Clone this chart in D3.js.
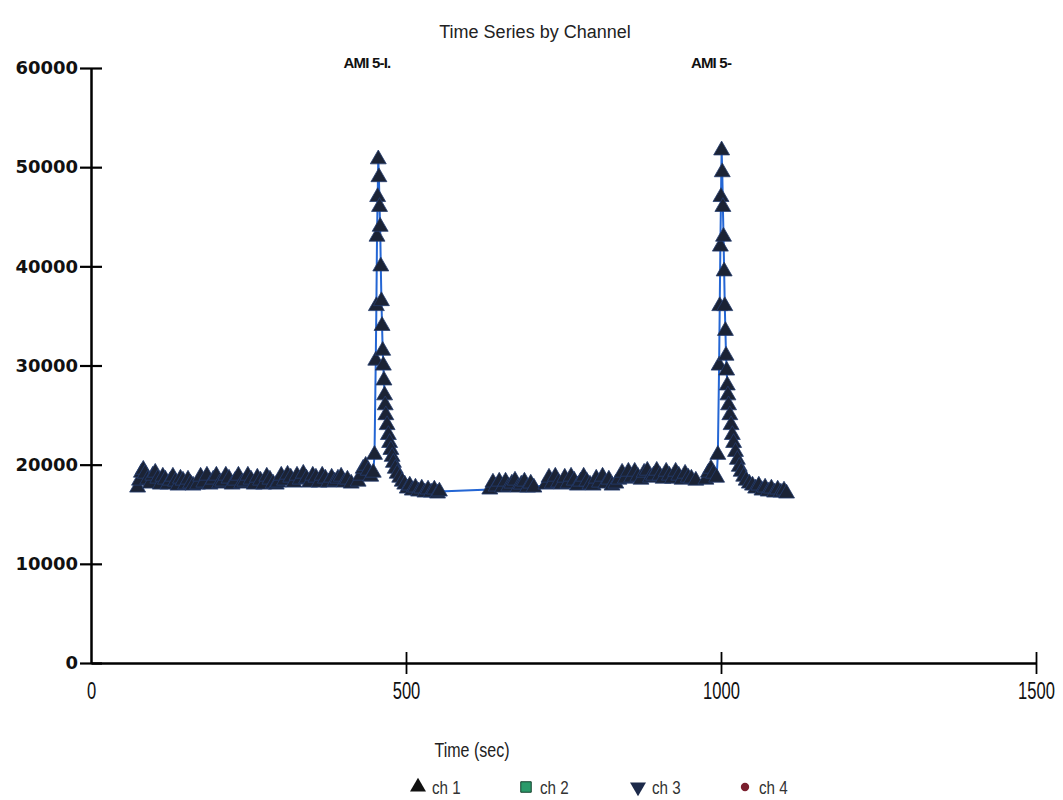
<!DOCTYPE html>
<html>
<head>
<meta charset="utf-8">
<script src="https://cdn.jsdelivr.net/npm/d3@7"></script>
<style>
    body { margin: 0; background: #fff; }
    text { font-family: "Liberation Sans", Arial, sans-serif; }
</style>
</head>
<body>
<div id="chart"></div>
<script>
// ch 1 readings, grouped by the runs visible on the trace
let timeSec = [
    74, 77, 80, 83, 86, 90, 94, 98, 102, 106, 110, 114, 118, 122, 126, 130, 134, 138, 142, 146, 150, 154, 158, 162,
    169, 174, 179, 184, 189, 194, 199, 204, 209, 214, 219, 224, 229, 234, 239, 244, 249, 254, 259, 264, 269, 274, 279, 284, 289, 294,
    297, 302, 307, 312, 317, 322, 327, 332, 337, 342, 347, 352, 357, 362, 367, 372, 377, 382, 387, 392, 397, 402, 407, 413,
    424, 428, 432, 436, 440, 444, 448,
    450, 452, 453, 454, 455, 456, 457, 458, 459, 460, 461, 462, 463, 464, 465, 466, 467, 468, 470, 472, 474, 476, 478, 480,
    483, 486, 490, 494, 498, 502, 506, 510, 515, 520, 525, 530, 535, 540, 545, 550, 553,
    633, 638, 643, 648, 653, 658, 663, 668, 673, 678, 683, 688, 693, 698, 703,
    722, 727, 732, 737, 742, 747, 752, 757, 762, 767, 772, 777, 782, 787, 792, 797, 802, 807, 812, 817, 822, 827, 833,
    838, 843, 848, 853, 858, 863, 868, 873, 878, 883, 888, 893, 898, 903, 908, 913, 918, 923, 928, 933, 938, 943, 948, 953, 960,
    976, 980, 984, 988, 993,
    995, 997, 998, 999, 1000, 1001, 1002, 1003, 1004, 1005, 1006, 1007, 1008, 1009, 1010, 1011, 1012, 1014, 1016, 1018, 1020,
    1023, 1026, 1029, 1032, 1036, 1040, 1045, 1050, 1055, 1060, 1065, 1070, 1075, 1080, 1085, 1090, 1095, 1100, 1104
];
let ch1Counts = [
    17700, 18400, 19200, 19500, 19100, 18500, 18100, 18900, 19200, 18600, 18000, 18800, 18500, 18000, 18400, 18800, 18300, 17900, 18600, 18400, 18000, 18500, 18100, 17900,
    18000, 18800, 18200, 18900, 18000, 18500, 18900, 18100, 18300, 18900, 18600, 18000, 18400, 18900, 18100, 18300, 18900, 18500, 18000, 18700, 18400, 18000, 18800, 18500, 18100, 18000,
    18200, 18900, 18400, 19000, 18700, 18200, 18900, 18500, 19100, 18600, 18200, 18900, 18700, 18200, 18900, 18600, 18200, 18700, 18300, 18600, 18800, 18200, 18500, 18100,
    18300, 18900, 19600, 19900, 19400, 18800, 19200,
    21000, 30500, 36000, 43000, 47000, 50800, 49000, 46000, 44000, 40000, 36500, 34000, 31500, 30000, 28500, 27000, 26000, 25000, 24000, 23000, 22200, 21500, 20800, 20200,
    19600, 19100, 18700, 18300, 18000, 17600, 17900, 17400, 17700, 17300, 17600, 17200, 17500, 17200, 17500, 17100, 17300,
    17500, 18200, 17800, 18300, 17700, 18300, 17800, 18100, 18400, 17700, 18000, 18300, 17700, 18100, 17700,
    18000, 18700, 18100, 18800, 18200, 18000, 18700, 18100, 18800, 18400, 17900, 18300, 18800, 18300, 18000, 17900, 18600, 18200, 18800, 18100, 18500, 17900, 18100,
    18500, 19200, 18600, 19300, 18700, 19300, 18800, 18500, 19200, 19400, 18700, 18900, 19400, 18900, 18600, 19300, 18900, 18600, 19300, 18900, 18500, 19100, 18700, 18600, 18400,
    18500, 19200, 19600, 19100, 18700,
    21000, 30000, 36000, 42000, 47000, 51700, 49500, 46000, 43000, 39500, 36000, 33500, 31000, 29500, 28000, 27000, 26000, 25000, 24000, 23000, 22200,
    21300, 20500, 19800, 19300, 18800, 18400, 18100, 17900, 17600, 17900, 17400, 17700, 17300, 17600, 17200, 17500, 17200, 17400, 17100
];

let xTicks = [0, 500, 1000, 1500];
let yTicks = [0, 10000, 20000, 30000, 40000, 50000, 60000];
let peakNotes = [
    {t: 454, label: "AMI 5-I."},
    {t: 1000, label: "AMI 5-"}
];
let legendItems = ["ch 1", "ch 2", "ch 3", "ch 4"];
let legendColors = ["#111111", "#2a9a6a", "#1d2a4a", "#7a1f2e"];
let legendSymbols = [d3.symbolTriangle, d3.symbolSquare, d3.symbolTriangle, d3.symbolCircle];

let data = timeSec.map(function(t, i) { return {t: t, v: ch1Counts[i]}; });

let svg = d3.select("#chart")
    .append("svg")
    .attr("width", 1063)
    .attr("height", 800);

// scales
let x = d3.scaleLinear().domain([0, 1500]).range([91, 1036]);
let y = d3.scaleLinear().domain([0, 60000]).range([663, 68]);

// title
svg.append("text")
    .attr("x", 535)
    .attr("y", 38)
    .attr("text-anchor", "middle")
    .style("font-size", "18px")
    .style("fill", "#222")
    .text("Time Series by Channel");

// Y axis, ticks crossing the line
let yAxis = svg.append("g")
    .attr("transform", "translate(" + x(0) + ",0)")
    .call(d3.axisLeft(y).tickValues(yTicks).tickSize(11).tickSizeOuter(0).tickFormat(d3.format("d")));
yAxis.selectAll(".tick line").attr("x2", 11).attr("x1", -11).attr("stroke-width", 2.2);
yAxis.select(".domain").attr("stroke-width", 2.5);
yAxis.selectAll(".tick text")
    .attr("x", -13)
    .style("font-family", "'DejaVu Sans', sans-serif")
    .style("font-weight", "bold")
    .style("font-size", "18px")
    .style("fill", "#111");

// X axis, narrow tall labels like the original
let xAxis = svg.append("g")
    .attr("transform", "translate(0," + y(0) + ")")
    .call(d3.axisBottom(x).tickValues(xTicks).tickSize(11).tickSizeOuter(0).tickFormat(d3.format("d")));
xAxis.selectAll(".tick line").attr("y1", -11).attr("y2", 11).attr("stroke-width", 1.8);
xAxis.selectAll(".tick").filter(function(d) { return d === 0; }).select("line").remove();
xAxis.select(".domain").attr("stroke-width", 2.5);
xAxis.selectAll(".tick text")
    .attr("y", 20)
    .attr("transform", "scale(0.72,1)")
    .style("font-size", "23px")
    .style("fill", "#111");

// x label
svg.append("text")
    .attr("transform", "translate(472,757) scale(0.8,1)")
    .attr("text-anchor", "middle")
    .style("font-size", "20px")
    .style("fill", "#222")
    .text("Time (sec)");

// ch 1 trace
svg.append("path")
    .datum(data)
    .attr("fill", "none")
    .attr("stroke", "#2466d4")
    .attr("stroke-width", 2)
    .attr("d", d3.line()
        .x(function(d) { return x(d.t); })
        .y(function(d) { return y(d.v); })
    );

svg.append("g")
    .selectAll("path")
    .data(data)
    .enter()
    .append("path")
    .attr("transform", function(d) { return "translate(" + x(d.t) + "," + y(d.v) + ")"; })
    .attr("d", d3.symbol().type(d3.symbolTriangle).size(110))
    .attr("fill", "#1b2335")
    .attr("stroke", "#243c6e")
    .attr("stroke-width", 0.8);

// peak annotations
svg.selectAll(".note")
    .data(peakNotes)
    .enter()
    .append("text")
    .attr("class", "note")
    .attr("x", function(d) { return x(d.t) - 10; })
    .attr("y", 68)
    .attr("text-anchor", "middle")
    .style("font-size", "15px")
    .style("font-weight", "bold")
    .style("letter-spacing", "-0.8px")
    .style("fill", "#111")
    .text(function(d) { return d.label; });

// legend
let legendX = [418, 526, 638, 745];
let legend = svg.selectAll(".legend")
    .data(legendItems)
    .enter()
    .append("g")
    .attr("class", "legend")
    .attr("transform", function(d, i) { return "translate(" + legendX[i] + ",787)"; });
legend.append("path")
    .attr("d", function(d, i) { return d3.symbol().type(legendSymbols[i]).size(i === 3 ? 55 : 110)(); })
    .attr("transform", function(d, i) { return i === 2 ? "rotate(180)" : null; })
    .attr("fill", function(d, i) { return legendColors[i]; })
    .attr("stroke", function(d, i) { return i === 1 ? "#14402c" : "none"; });
legend.append("text")
    .attr("transform", "translate(14,7) scale(0.8,1)")
    .style("font-size", "19px")
    .style("fill", "#333")
    .text(function(d) { return d; });
</script>
</body>
</html>
